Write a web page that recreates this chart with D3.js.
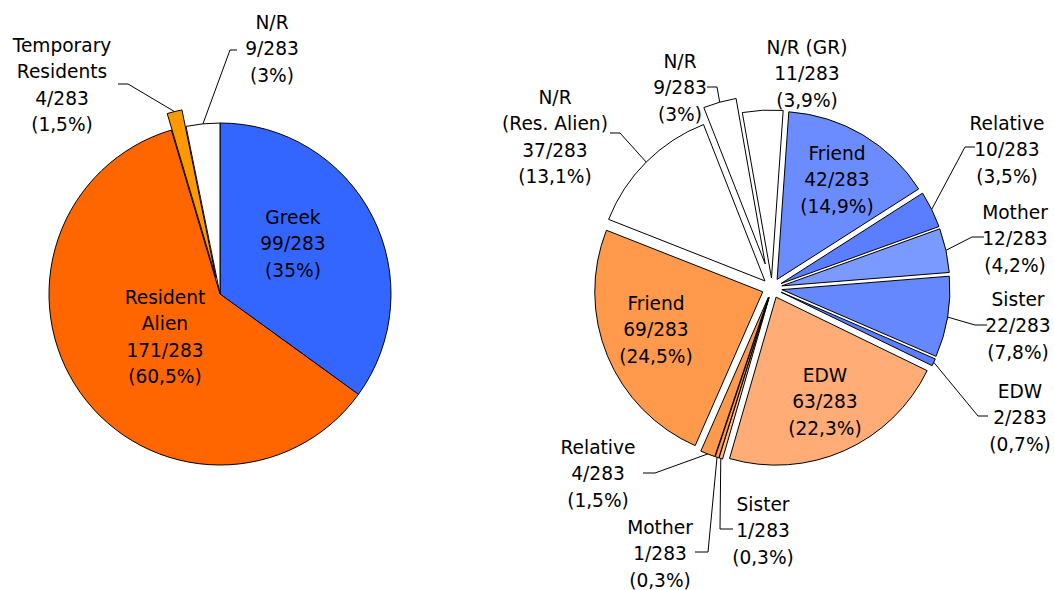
<!DOCTYPE html>
<html>
<head>
<meta charset="utf-8">
<script src="https://cdn.jsdelivr.net/npm/d3@7"></script>
<style>
  html, body { margin: 0; padding: 0; background: #fff; }
  svg { display: block; }
  text { font-family: "DejaVu Sans", Verdana, sans-serif; font-size: 18.6px; fill: #000; }
</style>
</head>
<body>
<svg id="chart" width="1054" height="590"></svg>
<script>
// ---------- DATA ----------
const total = 283;

const leftCategories = ["Greek", "Resident\nAlien", "Temporary\nResidents", "N/R"];
const leftValues = [99, 171, 4, 9];
const leftPercents = ["35%", "60,5%", "1,5%", "3%"];

const rightCategories = ["Friend", "Relative", "Mother", "Sister", "EDW",
  "EDW", "Sister", "Mother", "Relative", "Friend",
  "N/R\n(Res. Alien)", "N/R", "N/R (GR)"];
const rightValues = [42, 10, 12, 22, 2, 63, 1, 1, 4, 69, 37, 9, 11];
const rightPercents = ["14,9%", "3,5%", "4,2%", "7,8%", "0,7%", "22,3%", "0,3%", "0,3%", "1,5%", "24,5%", "13,1%", "3%", "3,9%"];

// ---------- STYLE / LAYOUT ----------
const leftColors = ["#3366FF", "#FF6600", "#FF9900", "#FFFFFF"];
const rightColors = ["#6A8CFF", "#5A7EFF", "#7A9AFF", "#6688FF", "#5A7EFF",
  "#FFAC76", "#FFB88A", "#FF9A4D", "#FF9A4D", "#FF9A4D",
  "#FFFFFF", "#FFFFFF", "#FFFFFF"];

const leftPie = { cx: 220, cy: 294, r: 171, rot: 0,
  explode: [0, 0, 17, 0] };
const rightPie = { cx: 772, cy: 288, r: 168, rot: 4 * Math.PI / 180,
  explode: [10, 10, 10, 10, 10, 10, 10, 10, 10, 10, 10, 25, 10] };

// label layout: x center, y center of first line, optional leader [startX, startY, elbowX, elbowY]
const lineGap = 26.6;
const leftLabelPos = [
  { x: 293, y: 217 },
  { x: 165, y: 297 },
  { x: 62, y: 45, leader: [118, 84, 128, 84] },
  { x: 272, y: 22, leader: [237, 50, 230, 50] }
];
const rightLabelPos = [
  { x: 837, y: 153 },
  { x: 1007, y: 123, leader: [975, 147, 965, 147] },
  { x: 1015, y: 212, leader: [984, 237, 972, 237] },
  { x: 1018, y: 299, leader: [987, 325, 975, 325] },
  { x: 1020, y: 391, leader: [988, 416, 978, 416] },
  { x: 825, y: 375 },
  { x: 763, y: 504, leader: [733, 529, 720, 529] },
  { x: 660, y: 527, leader: [695, 552, 708, 552] },
  { x: 598, y: 447, leader: [643, 473, 655, 473] },
  { x: 656, y: 303 },
  { x: 555, y: 97, leader: [610, 133, 620, 133] },
  { x: 680, y: 61, leader: [707, 87, 717, 87] },
  { x: 807, y: 47 }
];

const svg = d3.select("#chart");

function drawPie(cfg, cats, vals, pcts, colors, labels) {
  const pie = d3.pie().sort(null).value(d => d)
    .startAngle(cfg.rot).endAngle(cfg.rot + 2 * Math.PI);
  const arcs = pie(vals);
  const arc = d3.arc().innerRadius(0).outerRadius(cfg.r);
  const g = svg.append("g").attr("transform", `translate(${cfg.cx},${cfg.cy})`);

  arcs.forEach((a, i) => {
    const mid = (a.startAngle + a.endAngle) / 2;
    const d = cfg.explode[i];
    const dx = Math.sin(mid) * d, dy = -Math.cos(mid) * d;
    g.append("path")
      .attr("d", arc(a))
      .attr("transform", `translate(${dx},${dy})`)
      .attr("fill", colors[i])
      .attr("stroke", "#000")
      .attr("stroke-width", 1)
      .attr("stroke-linejoin", "round");
  });

  // leaders
  arcs.forEach((a, i) => {
    const L = labels[i];
    if (!L.leader) return;
    const mid = (a.startAngle + a.endAngle) / 2;
    const rr = cfg.r + cfg.explode[i];
    const px = cfg.cx + Math.sin(mid) * rr;
    const py = cfg.cy - Math.cos(mid) * rr;
    const [sx, sy, ex, ey] = L.leader;
    svg.append("polyline")
      .attr("points", `${sx},${sy} ${ex},${ey} ${px},${py}`)
      .attr("fill", "none")
      .attr("stroke", "#000")
      .attr("stroke-width", 1);
  });

  // labels
  arcs.forEach((a, i) => {
    const L = labels[i];
    const lines = cats[i].split("\n").concat([`${vals[i]}/${total}`, `(${pcts[i]})`]);
    const t = svg.append("text").attr("text-anchor", "middle");
    lines.forEach((ln, k) => {
      t.append("tspan")
        .attr("x", L.x)
        .attr("y", L.y + k * lineGap + 6.5)
        .text(ln);
    });
  });
}

drawPie(leftPie, leftCategories, leftValues, leftPercents, leftColors, leftLabelPos);
drawPie(rightPie, rightCategories, rightValues, rightPercents, rightColors, rightLabelPos);
</script>
</body>
</html>
